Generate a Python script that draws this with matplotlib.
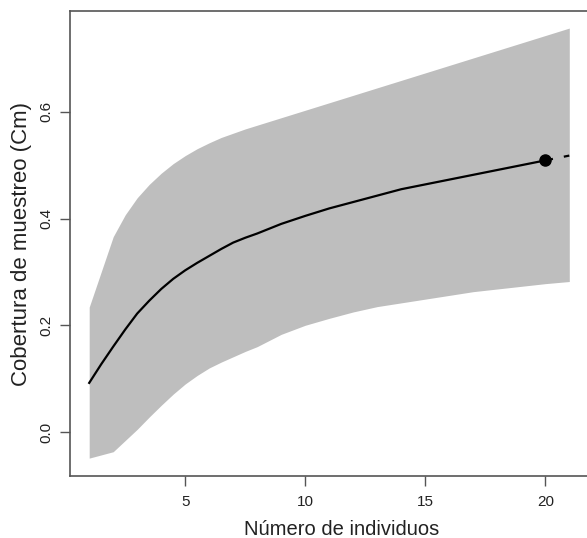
import numpy as np
import matplotlib
matplotlib.use("Agg")
import matplotlib.pyplot as plt

# ============================================================
# DATA
# ============================================================

individuos = [1, 1.5, 2, 2.5, 3, 3.5, 4, 4.5, 5, 5.5, 6, 6.5, 7, 7.5, 8,
              9, 10, 11, 12, 13, 14, 15, 16, 17, 18, 19, 20, 21]

cobertura = [0.092, 0.127, 0.160, 0.192, 0.222, 0.246, 0.268, 0.287,
             0.303, 0.317, 0.330, 0.343, 0.355, 0.364, 0.372,
             0.390, 0.405, 0.419, 0.431, 0.443, 0.455, 0.464, 0.473,
             0.482, 0.491, 0.500, 0.509, 0.518]

ic_superior = [0.234, 0.300, 0.366, 0.407, 0.439, 0.464, 0.485, 0.503,
               0.518, 0.531, 0.542, 0.552, 0.560, 0.568, 0.575,
               0.589, 0.603, 0.617, 0.631, 0.645, 0.659, 0.673, 0.687,
               0.701, 0.715, 0.729, 0.743, 0.757]

ic_inferior = [-0.049, -0.043, -0.037, -0.016, 0.005, 0.028, 0.050, 0.071,
               0.090, 0.106, 0.120, 0.131, 0.141, 0.151, 0.160,
               0.183, 0.200, 0.213, 0.225, 0.235, 0.242, 0.249, 0.256,
               0.263, 0.268, 0.273, 0.278, 0.282]

n_observado = 20

x_ticks = [5, 10, 15, 20]
y_ticks = [0.0, 0.2, 0.4, 0.6]

# ============================================================
# FIGURE
# ============================================================

plt.rcParams["font.family"] = ["Liberation Sans", "DejaVu Sans"]

W, H = 587, 538
fig = plt.figure(figsize=(W / 100, H / 100), dpi=100)
ax = fig.add_axes([70 / W, 62 / H, (588.5 - 70) / W, 465 / H])

x = np.array(individuos)
y = np.array(cobertura)
obs = x <= n_observado
ext = x >= n_observado

ax.fill_between(x, ic_inferior, ic_superior, color="#bebebe", lw=0)

# interpolated part (solid) and extrapolated part (dashed)
ax.plot(x[obs], y[obs], color="black", lw=1.6)
ax.plot(x[ext], y[ext], color="black", lw=1.6, ls=(0, (3.5, 5)))

ax.plot([n_observado], [y[x == n_observado][0]], "o",
        color="black", ms=8)

# ============================================================
# AXES
# ============================================================

ax.set_xlim(0.2, 21.8)
ax.set_ylim(-0.0825, 0.789)

ax.set_xticks(x_ticks)
ax.set_yticks(y_ticks)
ax.set_yticklabels([f"{v:.1f}" for v in y_ticks],
                   rotation=90, va="center")

for side in ["left", "bottom", "top"]:
    ax.spines[side].set_color("#555555")
    ax.spines[side].set_linewidth(1.2)
ax.spines["right"].set_visible(False)

ax.tick_params(axis="both", direction="out", length=7, width=1,
               color="#555555", labelsize=11, labelcolor="#222222")
ax.tick_params(axis="x", pad=7)
ax.tick_params(axis="y", pad=5)

ax.set_xlabel("Número de individuos", fontsize=14.5, color="#222222")
ax.xaxis.set_label_coords(0.523, -0.095)
ax.set_ylabel("Cobertura de muestreo (Cm)", fontsize=16,
              color="#222222", labelpad=5)

fig.savefig("out.png", dpi=100)
